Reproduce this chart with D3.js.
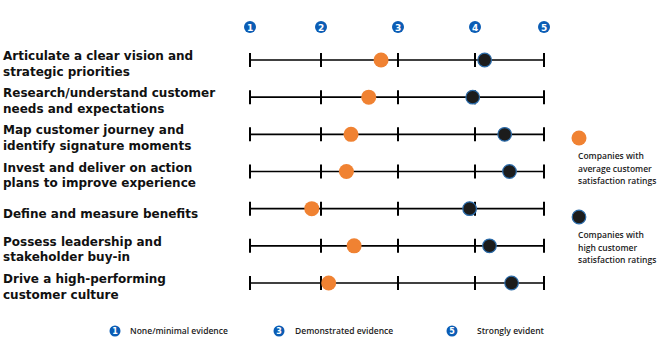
<!DOCTYPE html>
<html>
    <head>
        <meta charset="utf-8">
        <script src="https://cdn.jsdelivr.net/npm/d3@7"></script>
        <style>
            body { margin: 0; background: white; }
        </style>
        <script>
            // practices (one entry per row, lines split with "|")
            var practices = ["Articulate a clear vision and|strategic priorities",
                             "Research/understand customer|needs and expectations",
                             "Map customer journey and|identify signature moments",
                             "Invest and deliver on action|plans to improve experience",
                             "Define and measure benefits",
                             "Possess leadership and|stakeholder buy-in",
                             "Drive a high-performing|customer culture"];

            // companies with average customer satisfaction ratings
            var average = [2.78, 2.62, 2.39, 2.33, 1.87, 2.43, 2.10];
            // companies with high customer satisfaction ratings
            var high    = [4.14, 3.97, 4.43, 4.50, 3.93, 4.21, 4.53];

            var scalePoints = [1, 2, 3, 4, 5];
            var keyPoints   = [1, 3, 5];
            var keyLabels   = ["None/minimal evidence", "Demonstrated evidence", "Strongly evident"];
            var seriesNames = ["Companies with|average customer|satisfaction ratings",
                               "Companies with|high customer|satisfaction ratings"];

            function makeSVG() {

                const blue = "#0b5db5";
                const orange = "#f08232";
                const dark = "#1c1c1c";

                var svg = d3.select("#fig");

                // the printed scale is not evenly spaced
                var x = d3.scaleLinear()
                          .domain(scalePoints)
                          .range([250, 321, 398, 475, 544]);

                var y = d3.scalePoint()
                          .domain(d3.range(practices.length))
                          .range([60, 283]);

                // header numbers

                var head = svg.append("g").selectAll("g").data(scalePoints)
                              .enter()
                              .append("g")
                              .attr("transform", v => "translate(" + x(v) + ", 27)");
                head.append("circle").attr("r", 6).attr("fill", blue);
                head.append("text")
                    .attr("text-anchor", "middle")
                    .attr("dy", "3.5")
                    .attr("font-family", "DejaVu Sans")
                    .attr("font-weight", "bold")
                    .attr("font-size", "9px")
                    .attr("fill", "white")
                    .text(v => v);

                // rows

                var rows = svg.append("g").selectAll("g").data(practices)
                              .enter()
                              .append("g")
                              .attr("transform", (p, i) => "translate(0, " + y(i) + ")");

                rows.append("line")
                    .attr("x1", x(1))
                    .attr("x2", x(5))
                    .attr("stroke", "black")
                    .attr("stroke-width", 1.6);

                rows.selectAll(".tick").data(scalePoints)
                    .enter()
                    .append("line")
                    .attr("class", "tick")
                    .attr("x1", v => x(v))
                    .attr("x2", v => x(v))
                    .attr("y1", -7)
                    .attr("y2", 7)
                    .attr("stroke", "black")
                    .attr("stroke-width", 2);

                var label = rows.append("text")
                                .attr("x", 3)
                                .attr("font-family", "DejaVu Sans")
                                .attr("font-weight", "bold")
                                .attr("font-size", "12px")
                                .attr("fill", "#111");
                label.selectAll("tspan").data(p => p.split("|").map((t, j, a) => ({t: t, j: j, n: a.length})))
                     .enter()
                     .append("tspan")
                     .attr("x", 3)
                     .attr("y", d => d.n == 1 ? 9 : 0 + d.j * 15.5)
                     .text(d => d.t);

                rows.append("circle")
                    .attr("cx", (p, i) => x(average[i]))
                    .attr("r", 7.5)
                    .attr("fill", orange);

                rows.append("circle")
                    .attr("cx", (p, i) => x(high[i]))
                    .attr("r", 6.8)
                    .attr("fill", dark)
                    .attr("stroke", "#2a6aa8")
                    .attr("stroke-width", 1.2);

                // series legend

                var legend = svg.append("g").selectAll("g").data(seriesNames)
                                .enter()
                                .append("g")
                                .attr("transform", (s, i) => "translate(579, " + (138 + i * 79) + ")");
                legend.append("circle")
                      .attr("r", (s, i) => i == 0 ? 7.5 : 6.8)
                      .attr("fill", (s, i) => i == 0 ? orange : dark)
                      .attr("stroke", (s, i) => i == 0 ? "none" : "#2a6aa8")
                      .attr("stroke-width", 1.2);
                legend.append("text")
                      .attr("font-family", "Open Sans")
                      .attr("font-weight", 600)
                      .attr("font-size", "8.5px")
                      .attr("fill", "#222")
                      .selectAll("tspan").data(s => s.split("|"))
                      .enter()
                      .append("tspan")
                      .attr("x", -1)
                      .attr("y", (t, j) => 21 + j * 12.5)
                      .text(t => t);

                // evidence key

                var keyX = [115, 279, 452];
                var key = svg.append("g").selectAll("g").data(keyPoints)
                             .enter()
                             .append("g")
                             .attr("transform", (v, i) => "translate(" + keyX[i] + ", 331)");
                key.append("circle").attr("r", 5.5).attr("fill", blue);
                key.append("text")
                   .attr("text-anchor", "middle")
                   .attr("dy", "3")
                   .attr("font-family", "DejaVu Sans")
                   .attr("font-weight", "bold")
                   .attr("font-size", "8px")
                   .attr("fill", "white")
                   .text(v => v);
                key.append("text")
                   .attr("x", (v, i) => [15, 16, 25][i])
                   .attr("dy", "3")
                   .attr("font-family", "Open Sans")
                   .attr("font-weight", 600)
                   .attr("font-size", "8.5px")
                   .attr("fill", "#222")
                   .text((v, i) => keyLabels[i]);
            }
        </script>
    </head>
    <body onload="makeSVG()">
        <svg id="fig" width="667" height="352"></svg>
    </body>
</html>
